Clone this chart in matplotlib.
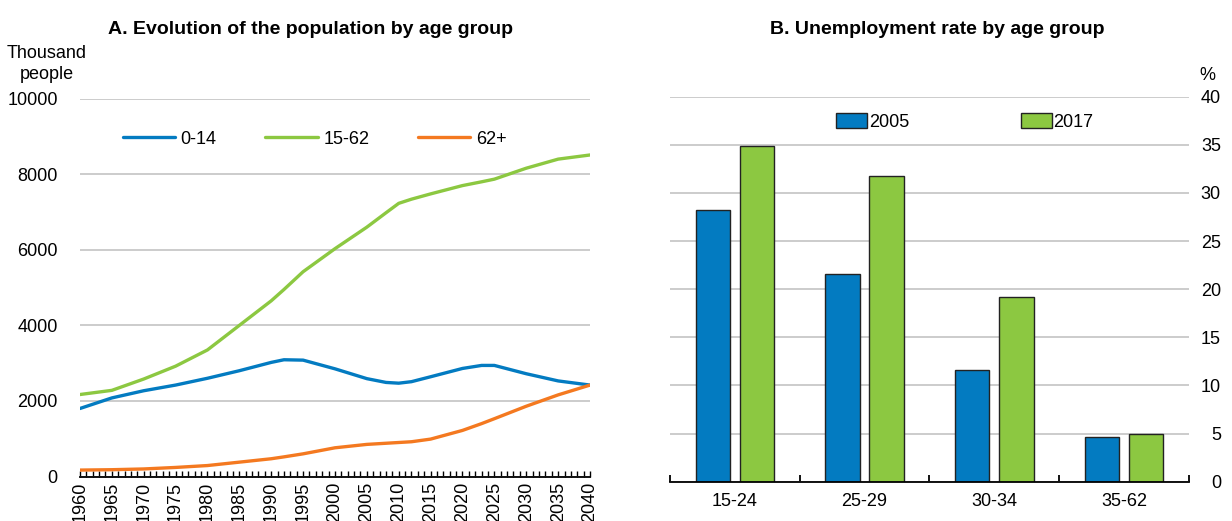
import numpy as np
import matplotlib
matplotlib.use("Agg")
import matplotlib.pyplot as plt
from matplotlib.ticker import MultipleLocator

plt.rcParams["font.family"] = ["Liberation Sans Narrow", "Liberation Sans", "DejaVu Sans"]
plt.rcParams["font.size"] = 13

# Panel A: population by age group (thousand people)
years = [1960, 1965, 1970, 1975, 1980, 1985, 1990, 1992, 1995, 2000,
         2005, 2008, 2010, 2012, 2015, 2020, 2023, 2025, 2030, 2035, 2040]
pop_0_14 = [1800, 2080, 2270, 2420, 2600, 2800, 3020, 3090, 3080, 2850,
            2590, 2490, 2470, 2510, 2640, 2860, 2940, 2940, 2720, 2530, 2420]
pop_15_62 = [2170, 2280, 2580, 2920, 3350, 4000, 4650, 4950, 5420, 6030,
             6600, 6980, 7230, 7340, 7480, 7700, 7800, 7870, 8160, 8400, 8510]
pop_62_plus = [170, 180, 200, 240, 290, 380, 470, 520, 600, 760,
               850, 880, 900, 920, 990, 1220, 1400, 1530, 1860, 2160, 2420]

# Panel B: unemployment rate by age group (%)
age_groups = ["15-24", "25-29", "30-34", "35-62"]
unemp_2005 = [28.2, 21.6, 11.6, 4.65]
unemp_2017 = [34.9, 31.8, 19.2, 5.0]

BLUE = "#037BC1"
GREEN = "#8CC841"
ORANGE = "#F47920"
GRID = "#C8C8C8"

fig = plt.figure(figsize=(12.32, 5.21), dpi=100)

# ---- Panel A
ax1 = fig.add_axes([0.0649, 0.0854, 0.414, 0.7252])
line_kw = dict(lw=2.4, solid_capstyle="round", solid_joinstyle="round")
ax1.plot(years, pop_0_14, color=BLUE, label="0-14", **line_kw)
ax1.plot(years, pop_15_62, color=GREEN, label="15-62", **line_kw)
ax1.plot(years, pop_62_plus, color=ORANGE, label="62+", **line_kw)
ax1.set_xlim(1960, 2040)
ax1.set_ylim(0, 10000)
ax1.set_yticks(np.arange(0, 10001, 2000))
ax1.xaxis.set_major_locator(MultipleLocator(5))
ax1.xaxis.set_minor_locator(MultipleLocator(1))
ax1.grid(axis="y", color=GRID, lw=1.3)
ax1.set_axisbelow(True)
for s in ["top", "right", "left"]:
    ax1.spines[s].set_visible(False)
ax1.spines["bottom"].set_color("black")
ax1.spines["bottom"].set_linewidth(1.3)
ax1.tick_params(axis="x", which="both", direction="in", length=4, width=1,
                labelrotation=90, pad=4)
ax1.tick_params(axis="y", length=0, pad=16)
ax1.legend(loc="center", bbox_to_anchor=(0.46, 0.893), ncol=3, frameon=False,
           handlelength=2.9, handletextpad=0.3, columnspacing=2.7, fontsize=13)

# ---- Panel B
ax2 = fig.add_axes([0.5438, 0.0754, 0.4213, 0.739])
x = np.arange(len(age_groups))
w = 0.265
ax2.bar(x - 0.17, unemp_2005, w, color=BLUE, edgecolor="#222222", lw=1, label="2005")
ax2.bar(x + 0.17, unemp_2017, w, color=GREEN, edgecolor="#222222", lw=1, label="2017")
ax2.set_xlim(-0.5, len(age_groups) - 0.5)
ax2.set_ylim(0, 40)
ax2.set_yticks(np.arange(0, 41, 5))
ax2.set_xticks(x)
ax2.set_xticklabels(age_groups)
ax2.set_xticks(np.arange(-0.5, len(age_groups), 1), minor=True)
ax2.tick_params(axis="x", which="major", length=0, pad=8)
ax2.tick_params(axis="x", which="minor", direction="in", length=5, width=1.3)
ax2.yaxis.tick_right()
ax2.tick_params(axis="y", length=0, pad=23)
for lab in ax2.get_yticklabels():
    lab.set_ha("right")
ax2.grid(axis="y", color=GRID, lw=1.3)
ax2.set_axisbelow(True)
for s in ["top", "right", "left"]:
    ax2.spines[s].set_visible(False)
ax2.spines["bottom"].set_color("black")
ax2.spines["bottom"].set_linewidth(1.3)
ax2.legend(loc="center", bbox_to_anchor=(0.568, 0.934), ncol=2, frameon=False,
           handlelength=1.7, handleheight=0.83, handletextpad=0.1,
           columnspacing=6.2, fontsize=13)

# titles and unit labels
fig.text(311 / 1232, 1 - 30 / 521, "A. Evolution of the population by age group",
         ha="center", va="center", fontsize=14, fontweight="bold")
fig.text(937 / 1232, 1 - 30 / 521, "B. Unemployment rate by age group",
         ha="center", va="center", fontsize=14, fontweight="bold")
fig.text(47 / 1232, 1 - 64 / 521, "Thousand\npeople", ha="center", va="center",
         fontsize=13, linespacing=1.3)
fig.text(1207 / 1232, 1 - 75 / 521, "%", ha="center", va="center", fontsize=13)

fig.savefig("out.png", dpi=100)
